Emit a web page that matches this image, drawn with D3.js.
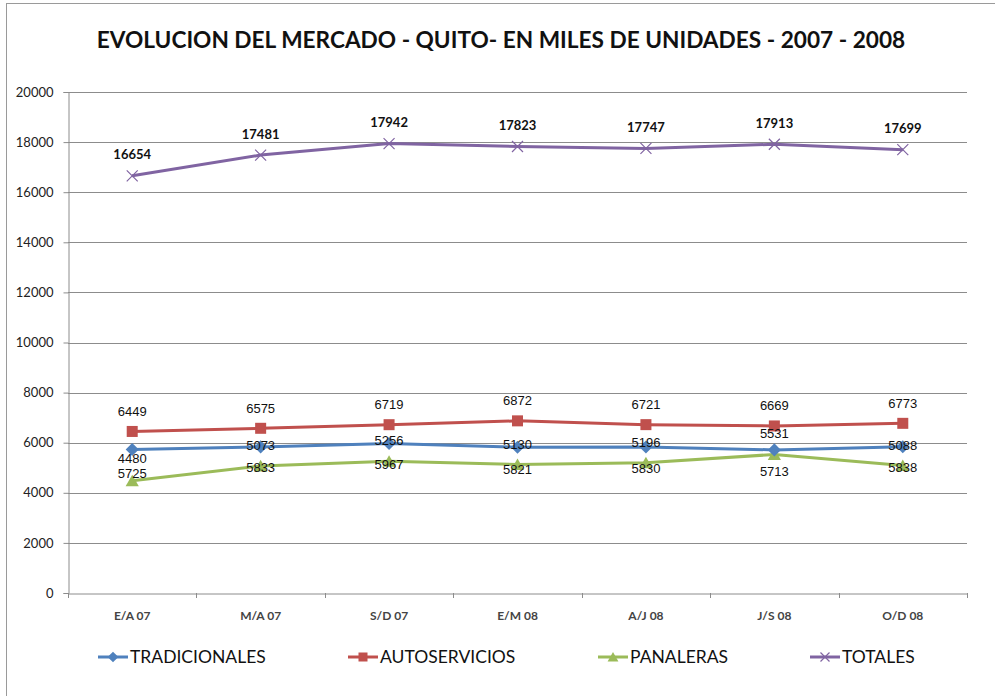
<!DOCTYPE html>
<html><head><meta charset="utf-8">
<script src="https://cdn.jsdelivr.net/npm/d3@7"></script>
<style>body{margin:0;background:#fff}svg{display:block}</style>
</head><body>
<svg id="c" width="995" height="696"></svg>
<script>
const categories = ["E/A 07","M/A 07","S/D 07","E/M 08","A/J 08","J/S 08","O/D 08"];
const tradicionales = [5725,5833,5967,5821,5830,5713,5838];
const autoservicios = [6449,6575,6719,6872,6721,6669,6773];
const panaleras = [4480,5073,5256,5130,5196,5531,5088];
const totales = [16654,17481,17942,17823,17747,17913,17699];
const yTicks = [0,2000,4000,6000,8000,10000,12000,14000,16000,18000,20000];
const seriesNames = ["TRADICIONALES","AUTOSERVICIOS","PANALERAS","TOTALES"];
const title = "EVOLUCION DEL MERCADO - QUITO- EN MILES DE UNIDADES - 2007 - 2008";

const colors = {TRADICIONALES:"#4F81BD",AUTOSERVICIOS:"#C0504D",PANALERAS:"#9BBB59",TOTALES:"#8064A2"};
const seriesData = {TRADICIONALES:tradicionales,AUTOSERVICIOS:autoservicios,PANALERAS:panaleras,TOTALES:totales};

const svg = d3.select("#c");
const L=68,R=967,T=92,B=593;
const x = d3.scaleBand().domain(categories).range([L,R]);
const y = d3.scaleLinear().domain([0,20000]).range([B,T]);
const cx = c => x(c)+x.bandwidth()/2;

// frame
svg.append("rect").attr("x",6.5).attr("y",3.5).attr("width",1000).attr("height",700)
  .attr("fill","#fff").attr("stroke","#9a9a9a").attr("stroke-width",1);

// title
const t = svg.append("text").attr("x",501).attr("y",48).attr("text-anchor","middle")
  .attr("font-family","Lato").attr("font-weight","bold").attr("font-size",22).attr("fill","#111").text(title);
const tw = t.node().getComputedTextLength();
t.attr("font-size",22*809/tw);

// gridlines
svg.append("g").selectAll("line").data(yTicks.filter(d=>d>0)).join("line")
  .attr("x1",L).attr("x2",R).attr("y1",d=>Math.round(y(d))+0.5).attr("y2",d=>Math.round(y(d))+0.5)
  .attr("stroke","#8c8c8c").attr("stroke-width",1);

// y axis
const ya = svg.append("g").attr("transform",`translate(${L+0.5},0)`)
  .call(d3.axisLeft(y).tickValues(yTicks).tickSize(5).tickPadding(10).tickFormat(d3.format("d")));
ya.select(".domain").attr("stroke","#8c8c8c");
ya.selectAll(".tick line").attr("stroke","#8c8c8c");
ya.selectAll(".tick text").attr("font-family","Lato").attr("font-size",13).attr("fill","#222");

// x axis
const xa = svg.append("g").attr("transform",`translate(0,${Math.round(B)+0.5})`)
  .call(d3.axisBottom(x).tickSize(0).tickPadding(18));
xa.select(".domain").attr("stroke","#8c8c8c");
xa.selectAll(".tick text").attr("font-family","Lato").attr("font-weight","bold").attr("font-size",12).attr("fill","#444");
svg.append("g").selectAll("line").data(categories.concat(["__end"])).join("line")
  .attr("x1",(d,i)=>Math.round(L+i*x.bandwidth())+0.5).attr("x2",(d,i)=>Math.round(L+i*x.bandwidth())+0.5)
  .attr("y1",B).attr("y2",B+5).attr("stroke","#8c8c8c");

// markers
function marker(g, name, size){
  const c = colors[name];
  if(name==="TRADICIONALES"){
    g.append("path").attr("d",d3.symbol(d3.symbolDiamond2? d3.symbolDiamond2 : d3.symbolDiamond, size*size*0.9)()).attr("fill",c);
  } else if(name==="AUTOSERVICIOS"){
    g.append("rect").attr("x",-size/2).attr("y",-size/2).attr("width",size).attr("height",size).attr("fill",c);
  } else if(name==="PANALERAS"){
    const s=size;
    g.append("path").attr("d",`M0,${-s*0.55}L${s*0.6},${s*0.5}L${-s*0.6},${s*0.5}Z`).attr("fill",c);
  } else {
    const s=size/2;
    g.append("path").attr("d",`M${-s},${-s}L${s},${s}M${-s},${s}L${s},${-s}`).attr("stroke",c).attr("stroke-width",1.2).attr("fill","none");
  }
}

const line = d3.line().x((d,i)=>cx(categories[i])).y(d=>y(d));
["TOTALES","PANALERAS","TRADICIONALES","AUTOSERVICIOS"].forEach(name=>{
  const vals = seriesData[name];
  svg.append("path").datum(vals).attr("d",line).attr("fill","none")
    .attr("stroke",colors[name]).attr("stroke-width",3).attr("stroke-linejoin","round");
  vals.forEach((v,i)=>{
    const g = svg.append("g").attr("transform",`translate(${cx(categories[i])},${y(v)})`);
    marker(g,name,11);
  });
});

// data labels
const lab = svg.append("g");
autoservicios.forEach((v,i)=>{
  lab.append("text").attr("x",cx(categories[i])).attr("y",y(v)-20).attr("dy","0.35em")
    .attr("text-anchor","middle").attr("font-family","Liberation Sans").attr("font-size",13).attr("fill","#111").text(v);
});
totales.forEach((v,i)=>{
  lab.append("text").attr("x",cx(categories[i])).attr("y",y(v)-21).attr("dy","0.35em")
    .attr("text-anchor","middle").attr("font-family","Lato").attr("font-weight","bold").attr("font-size",13).attr("fill","#111").text(v);
});
// labels of the two lower series, as placed in the original (overlapping the markers)
const upperDy = [8.5,-1.9,-2.8,-3.2,-4.9,-16.9,-1.7];
const lowerDy = [-7.5,1.8,2.7,4.5,5.9,16.6,1.5];
panaleras.forEach((v,i)=>{
  lab.append("text").attr("x",cx(categories[i])).attr("y",y(tradicionales[i])+upperDy[i]).attr("dy","0.35em")
    .attr("text-anchor","middle").attr("font-family","Liberation Sans").attr("font-size",13).attr("fill","#111").text(v);
});
tradicionales.forEach((v,i)=>{
  lab.append("text").attr("x",cx(categories[i])).attr("y",y(panaleras[i])+lowerDy[i]).attr("dy","0.35em")
    .attr("text-anchor","middle").attr("font-family","Liberation Sans").attr("font-size",13).attr("fill","#111").text(v);
});

// legend
const legX = [98,348,598,810];
seriesNames.forEach((name,i)=>{
  const g = svg.append("g").attr("transform",`translate(${legX[i]},657)`);
  g.append("line").attr("x1",0).attr("x2",30).attr("stroke",colors[name]).attr("stroke-width",3);
  const m = g.append("g").attr("transform","translate(15,0)");
  marker(m,name,9);
  g.append("text").attr("x",32).attr("y",0).attr("dy","0.36em").attr("font-family","Lato")
    .attr("font-size",17.5).attr("fill","#111").text(name);
});
</script>
</body></html>
